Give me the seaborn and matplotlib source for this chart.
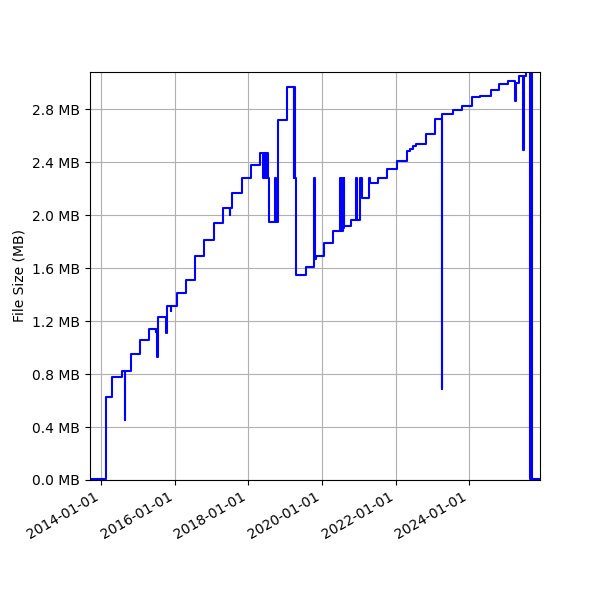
import pandas as pd
import matplotlib
matplotlib.use("Agg")
import matplotlib.pyplot as plt
import matplotlib.dates as mdates
from matplotlib.ticker import FuncFormatter, MultipleLocator
import seaborn as sns

# commit dates and file size (MB)
dates = [
    "2013-09-13", "2014-02-17", "2014-04-17", "2014-07-24", "2014-08-24", "2014-08-30",
    "2014-10-20", "2015-01-19", "2015-04-20", "2015-06-25", "2015-06-29", "2015-07-13",
    "2015-07-21", "2015-10-05", "2015-10-20", "2015-11-22", "2015-11-29", "2016-01-23",
    "2016-04-19", "2016-07-23", "2016-10-19", "2017-01-25", "2017-04-24", "2017-06-29",
    "2017-07-06", "2017-07-24", "2017-10-25", "2018-01-23", "2018-04-28", "2018-05-27",
    "2018-06-03", "2018-06-11", "2018-06-18", "2018-06-25", "2018-07-02", "2018-07-10",
    "2018-07-22", "2018-09-21", "2018-09-28", "2018-10-22", "2019-01-23", "2019-03-26",
    "2019-03-29", "2019-04-06", "2019-04-17", "2019-07-24", "2019-10-11", "2019-10-20",
    "2019-10-27", "2019-11-03", "2020-01-19", "2020-04-23", "2020-07-02", "2020-07-09",
    "2020-07-13", "2020-07-20", "2020-07-24", "2020-07-31", "2020-08-04", "2020-08-07",
    "2020-10-19", "2020-12-02", "2020-12-13", "2021-01-12", "2021-01-30", "2021-04-09",
    "2021-04-17", "2021-07-13", "2021-10-09", "2022-01-15", "2022-04-20", "2022-05-20",
    "2022-06-18", "2022-07-17", "2022-10-27", "2023-01-26", "2023-04-04", "2023-04-09",
    "2023-07-24", "2023-10-23", "2024-01-26", "2024-04-19", "2024-07-31", "2024-10-19",
    "2025-01-19", "2025-04-02", "2025-04-09", "2025-05-05", "2025-06-21", "2025-06-29",
    "2025-07-21", "2025-08-22", "2025-09-02", "2025-09-13", "2025-12-03",
]
sizes = [
    0.01, 0.63, 0.777, 0.825, 0.45, 0.825,
    0.953, 1.057, 1.137, 1.12, 1.137, 0.93,
    1.233, 1.11, 1.313, 1.275, 1.313, 1.41,
    1.51, 1.69, 1.81, 1.94, 2.05, 2.0,
    2.05, 2.17, 2.28, 2.375, 2.47, 2.28,
    2.47, 2.28, 2.47, 2.28, 2.47, 2.28,
    1.95, 2.28, 1.95, 2.72, 2.97, 2.28,
    2.97, 2.28, 1.55, 1.61, 2.28, 1.69,
    1.67, 1.69, 1.79, 1.88, 2.28, 1.88,
    2.28, 1.88, 2.28, 1.90, 2.28, 1.917,
    1.96, 2.28, 1.96, 2.28, 2.126, 2.28,
    2.24, 2.277, 2.35, 2.41, 2.48, 2.50,
    2.52, 2.54, 2.61, 2.725, 0.69, 2.765,
    2.795, 2.825, 2.888, 2.90, 2.946, 2.99,
    3.01, 2.86, 3.0, 3.05, 2.49, 3.05,
    3.08, 0.01, 3.08, 0.01, 0.01,
]

df = pd.DataFrame({"date": pd.to_datetime(dates), "size": sizes})

fig, ax = plt.subplots(figsize=(6, 6), dpi=100)
sns.lineplot(data=df, x="date", y="size", drawstyle="steps-post",
             color="blue", linewidth=1.5, ax=ax)

ax.set_xlim(df["date"].min(), df["date"].max())
ax.set_ylim(0, df["size"].max())
ax.yaxis.set_major_locator(MultipleLocator(0.4))
ax.yaxis.set_major_formatter(FuncFormatter(lambda v, p: f"{v:.1f} MB"))
ax.xaxis.set_major_locator(mdates.YearLocator(2))
ax.xaxis.set_major_formatter(mdates.DateFormatter("%Y-%m-%d"))
ax.set_xlabel("")
ax.set_ylabel("File Size (MB)")
ax.grid(True)

fig.autofmt_xdate()
plt.subplots_adjust(left=0.15, right=0.9, top=0.88, bottom=0.2)
plt.savefig("out.png")
